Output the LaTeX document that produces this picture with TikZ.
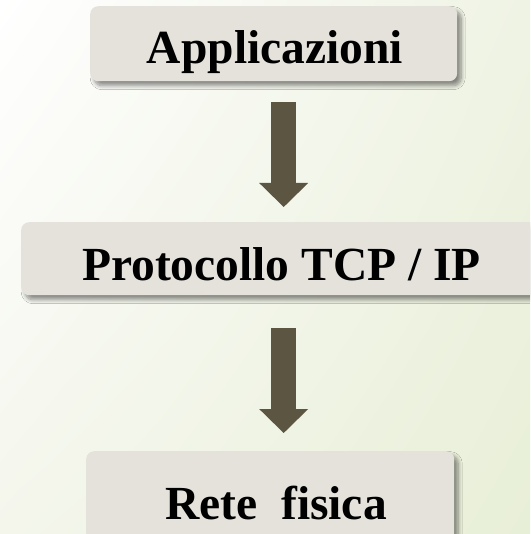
\documentclass[tikz,border=0pt]{standalone}
\usepackage{fontspec}
\setmainfont{Liberation Serif}
\usetikzlibrary{arrows.meta,shadows.blur,shadings}

\definecolor{bgtl}{HTML}{FFFFFF}
\definecolor{bgtr}{HTML}{EFF3E4}
\definecolor{bgbl}{HTML}{F4F6EC}
\definecolor{bgbr}{HTML}{E8EFD7}
\definecolor{boxfill}{HTML}{E5E2DC}
\definecolor{arrowfill}{HTML}{5C5542}

\tikzset{
  layerbox/.style={rectangle, rounded corners=8pt, fill=boxfill, inner sep=0pt,
    anchor=north west,
    blur shadow={shadow xshift=4pt, shadow yshift=-4.5pt, shadow blur steps=8,
      shadow blur radius=4pt, shadow opacity=45, shadow scale=1}},
  layertext/.style={anchor=base, inner sep=0pt, text=black,
    font=\fontsize{47.5}{57}\selectfont\bfseries},
  flowarrow/.style={draw=arrowfill, line width=25pt, line cap=butt,
    -{Triangle[width=49pt, length=24pt, line width=0pt, fill=arrowfill]}}
}

\begin{document}
\begin{tikzpicture}[x=1pt, y=-1pt]
  % page and background gradient
  \useasboundingbox (0,0) rectangle (530,534);
  \clip (0,0) rectangle (530,534);
  \shade[upper left=bgtl, upper right=bgtr, lower left=bgbl, lower right=bgbr]
    (0,0) rectangle (530,534);

  % layer boxes
  \node[layerbox, minimum width=367pt, minimum height=75pt] (app) at (90,6) {};
  \node[layerbox, minimum width=521pt, minimum height=73pt] (tcp) at (21,222) {};
  \node[layerbox, minimum width=368pt, minimum height=90pt] (rete) at (86,451) {};

  % labels
  \node[layertext] (apptext) at (275,64) {Applicazioni};
  \node[layertext] (tcptext) at (281.5,280) {Protocollo TCP / IP};
  \node[layertext] (retetext) at (276,519) {Rete~~fisica};

  % arrows between layers
  \draw[flowarrow, shorten <=21pt, shorten >=15pt]
    ([xshift=10pt]app.south) -- ([xshift=2pt]tcp.north);
  \draw[flowarrow, shorten <=33pt, shorten >=18pt]
    ([xshift=2pt]tcp.south) -- ([xshift=13.5pt]rete.north);
\end{tikzpicture}
\end{document}
